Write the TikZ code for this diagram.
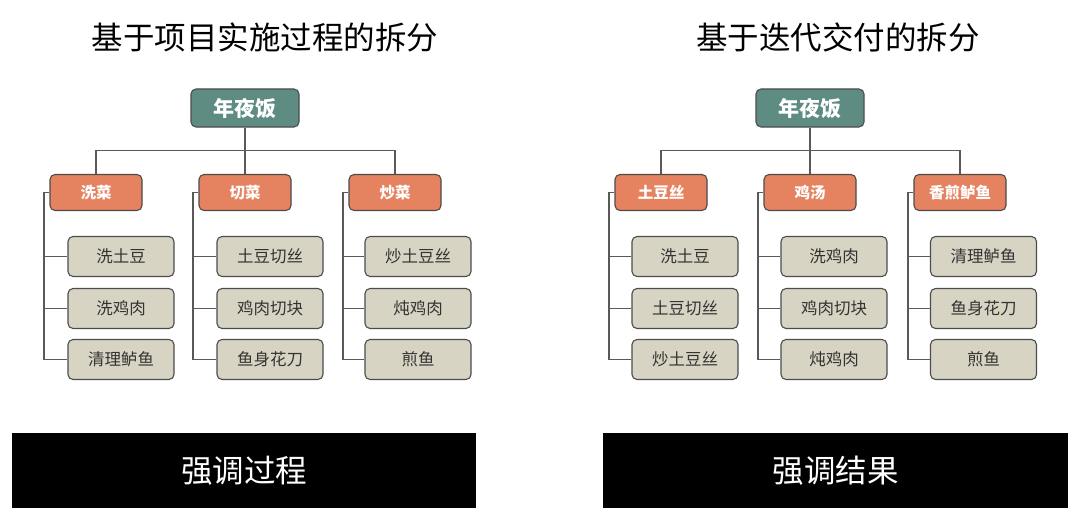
\documentclass[tikz,border=0pt]{standalone}
\usepackage{fontspec}
\setmainfont{Noto Sans CJK SC}
\begin{document}
\begin{tikzpicture}[x=1pt,y=-1pt,
  box/.style={draw=black!70,line width=1.1pt,rounded corners=5pt,inner sep=0pt},
  rootbox/.style={box,fill=root,minimum width=108pt,minimum height=38pt,text=white,font=\fontsize{21}{24}\selectfont\bfseries},
  catbox/.style={box,fill=cat,minimum width=92pt,minimum height=36pt,text=white,font=\fontsize{15.5}{18}\selectfont\bfseries},
  leafbox/.style={box,fill=leaf,minimum width=106pt,minimum height=40pt,text=black!80,font=\fontsize{16.5}{19}\selectfont},
  link/.style={draw=black!65,line width=1.1pt},
  title/.style={font=\fontsize{31.5}{36}\selectfont,text=black},
  bartext/.style={font=\fontsize{31.5}{36}\selectfont,text=white},
  bar/.style={fill=black}
]
\definecolor{root}{HTML}{5E8C83}
\definecolor{cat}{HTML}{E5825F}
\definecolor{leaf}{HTML}{D8D4C3}
\useasboundingbox (0,0) rectangle (1080,519);
\fill[white] (0,0) rectangle (1080,519);

% titles
\node[title] (t1) at (265,37) {基于项目实施过程的拆分};
\node[title] (t2) at (838,37) {基于迭代交付的拆分};

% ---------- left tree ----------
\node[rootbox] (rL) at (245,108) {年夜饭};
\node[catbox] (a1) at (96,192.5) {洗菜};
\node[catbox] (a2) at (245,192.5) {切菜};
\node[catbox] (a3) at (395,192.5) {炒菜};
\node[leafbox] (a11) at (121,256.5) {洗土豆};
\node[leafbox] (a12) at (121,308.5) {洗鸡肉};
\node[leafbox] (a13) at (121,359.5) {清理鲈鱼};
\node[leafbox] (a21) at (270,256.5) {土豆切丝};
\node[leafbox] (a22) at (270,308.5) {鸡肉切块};
\node[leafbox] (a23) at (270,359.5) {鱼身花刀};
\node[leafbox] (a31) at (418,256.5) {炒土豆丝};
\node[leafbox] (a32) at (418,308.5) {炖鸡肉};
\node[leafbox] (a33) at (418,359.5) {煎鱼};

\coordinate (hL) at (245,150.5);
\draw[link] (rL.south) -- (hL);
\draw[link] (a1.north) |- (hL) -| (a3.north);
\draw[link] (hL) -- (a2.north);

\foreach \c in {1,2,3}{
  \coordinate (va\c) at ([xshift=-5.5pt]a\c.west);
  \draw[link] (a\c.west) -- (va\c) |- (a\c3.west);
  \draw[link] (va\c) |- (a\c1.west);
  \draw[link] (va\c) |- (a\c2.west);
}

% ---------- right tree ----------
\node[rootbox] (rR) at (810,108) {年夜饭};
\node[catbox] (b1) at (661,192.5) {土豆丝};
\node[catbox] (b2) at (810,192.5) {鸡汤};
\node[catbox] (b3) at (960,192.5) {香煎鲈鱼};
\node[leafbox] (b11) at (685,256.5) {洗土豆};
\node[leafbox] (b12) at (685,308.5) {土豆切丝};
\node[leafbox] (b13) at (685,359.5) {炒土豆丝};
\node[leafbox] (b21) at (834,256.5) {洗鸡肉};
\node[leafbox] (b22) at (834,308.5) {鸡肉切块};
\node[leafbox] (b23) at (834,359.5) {炖鸡肉};
\node[leafbox] (b31) at (983.5,256.5) {清理鲈鱼};
\node[leafbox] (b32) at (983.5,308.5) {鱼身花刀};
\node[leafbox] (b33) at (983.5,359.5) {煎鱼};

\coordinate (hR) at (810,150.5);
\draw[link] (rR.south) -- (hR);
\draw[link] (b1.north) |- (hR) -| (b3.north);
\draw[link] (hR) -- (b2.north);

\foreach \c in {1,2,3}{
  \coordinate (vb\c) at ([xshift=-5.5pt]b\c.west);
  \draw[link] (b\c.west) -- (vb\c) |- (b\c3.west);
  \draw[link] (vb\c) |- (b\c1.west);
  \draw[link] (vb\c) |- (b\c2.west);
}

% ---------- bottom bars ----------
\fill[bar] (12,433) rectangle (476,508);
\fill[bar] (603,433) rectangle (1068,508);
\node[bartext] (s1) at (244,470.5) {强调过程};
\node[bartext] (s2) at (835.5,470.5) {强调结果};
\end{tikzpicture}
\end{document}
